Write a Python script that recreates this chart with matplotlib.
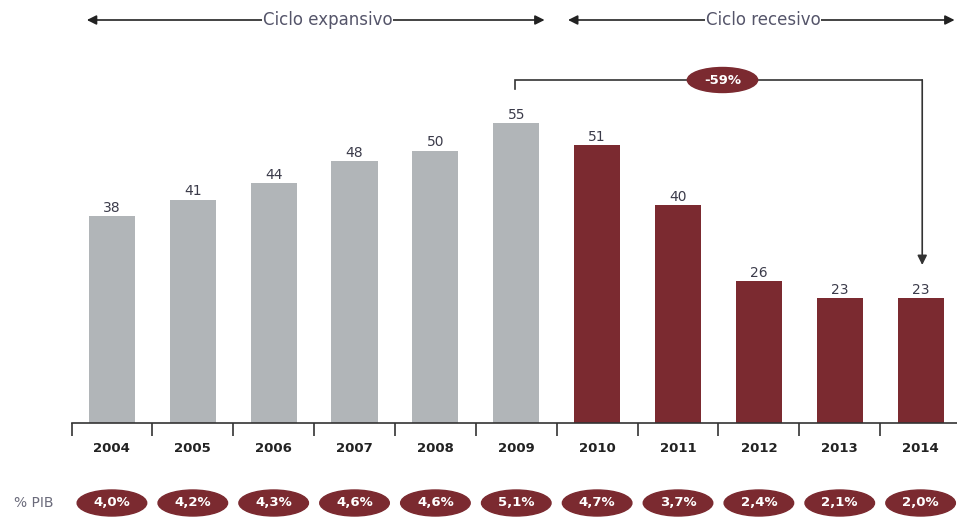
import numpy as np
from matplotlib import pyplot as plt
from matplotlib.patches import Ellipse

#---Daten---
anios = ["2004", "2005", "2006", "2007", "2008", "2009",
         "2010", "2011", "2012", "2013", "2014"]
valores = [38, 41, 44, 48, 50, 55, 51, 40, 26, 23, 23]
pib = ["4,0%", "4,2%", "4,3%", "4,6%", "4,6%", "5,1%",
       "4,7%", "3,7%", "2,4%", "2,1%", "2,0%"]
ciclo = ["exp"] * 6 + ["rec"] * 5

gris = "#b1b5b8"
rojo = "#7b2a30"
texto = "#3b3b4a"

#---Figura---
fig = plt.figure(figsize=(9.57, 5.18), dpi=100)
# una sola area que cubre toda la altura; escala 5.45 px por unidad
px = 5.45
ax = fig.add_axes([71.5 / 957, 0, (957 - 71.5) / 957, 1])
ax.set_xlim(-0.5, 10.45)
ax.set_ylim(-(518 - 423) / px, 423 / px)

x = np.arange(len(anios))
colores = [gris if c == "exp" else rojo for c in ciclo]
ax.bar(x, valores, width=0.57, color=colores, zorder=2)

for xi, v in zip(x, valores):
    ax.text(xi, v + 0.2, str(v), ha="center", va="bottom",
            fontsize=10, color=texto)

# eje inferior con marcas entre barras
for s in ["top", "right", "left"]:
    ax.spines[s].set_visible(False)
ax.spines["bottom"].set_position(("data", 0))
ax.spines["bottom"].set_color("#333333")
ax.spines["bottom"].set_linewidth(1.2)
ax.set_yticks([])
ax.set_xticks(x)
ax.set_xticklabels(anios, fontsize=9.5, fontweight="bold", color="#222222")
ax.set_xticks(x - 0.5, minor=True)
ax.tick_params(axis="x", which="major", length=0, pad=14)
ax.tick_params(axis="x", which="minor", length=9, width=1.2,
               direction="out", color="#333333")

# % PIB
y_pib = -(503 - 423) / px
fig.text(14 / 957, 1 - 503 / 518, "% PIB", fontsize=10, color="#6b6b7b",
         va="center", ha="left")
for xi, t in zip(x, pib):
    ax.add_patch(Ellipse((xi, y_pib), 0.86, 26 / px, color=rojo,
                         clip_on=False, zorder=3))
    ax.text(xi, y_pib, t, ha="center", va="center", fontsize=9.5,
            fontweight="bold", color="white", zorder=4)

# flechas de ciclo
y_top = (423 - 20) / px
flecha = dict(arrowstyle="<|-|>", color="#222222", lw=1.2,
              mutation_scale=14, shrinkA=0, shrinkB=0)
ax.annotate("", xy=(-0.31, y_top), xytext=(5.35, y_top), arrowprops=flecha)
ax.annotate("", xy=(5.64, y_top), xytext=(10.42, y_top), arrowprops=flecha)
ax.text(2.67, y_top, "Ciclo expansivo", ha="center", va="center",
        fontsize=12, color="#55556a",
        bbox=dict(facecolor="white", edgecolor="none", pad=0.5))
ax.text(8.05, y_top, "Ciclo recesivo", ha="center", va="center",
        fontsize=12, color="#55556a",
        bbox=dict(facecolor="white", edgecolor="none", pad=0.5))

# corchete -59%
y_b = (423 - 80) / px
ax.plot([4.98, 4.98, 10.02], [(423 - 89) / px, y_b, y_b],
        color="#333333", lw=1.2, solid_joinstyle="miter")
ax.annotate("", xy=(10.02, (423 - 265) / px), xytext=(10.02, y_b),
            arrowprops=dict(arrowstyle="-|>", color="#333333", lw=1.2,
                            mutation_scale=14, shrinkA=0, shrinkB=0))
ax.add_patch(Ellipse((7.55, y_b), 0.87, 25 / px, color=rojo, zorder=3))
ax.text(7.55, y_b, "-59%", ha="center", va="center", fontsize=9.5,
        fontweight="bold", color="white", zorder=4)

plt.savefig("out.png", dpi=100)
